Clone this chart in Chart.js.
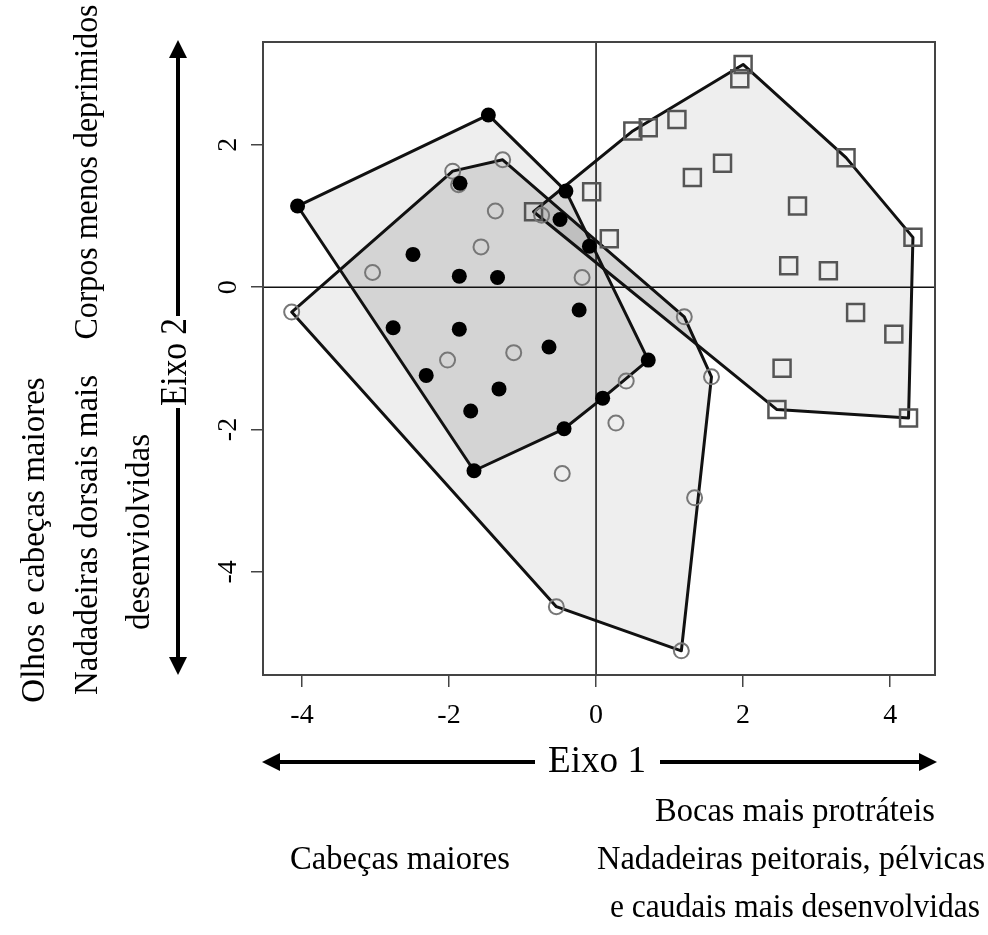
<!DOCTYPE html>
<html>
<head>
<meta charset="utf-8">
<script src="https://cdn.jsdelivr.net/npm/chart.js@4.4.0/dist/chart.umd.min.js"></script>
<style>
html, body { margin: 0; padding: 0; background: #fff; }
#wrap { width: 988px; height: 935px; }
</style>
</head>
<body>
<div id="wrap"><canvas id="cv" width="988" height="935"></canvas></div>
<script>
// axis ticks
var xTicks = [-4, -2, 0, 2, 4];
var yTicks = [-4, -2, 0, 2];

// filled circles
var blackX = [-4.06, -1.465, -1.85, -0.41, -0.49, -0.09, -2.49, -1.86, -1.34, -0.23,
              -2.76, -1.86, -0.64, -2.31, -1.32, -1.705, -0.435, -1.66, 0.09, 0.71];
var blackY = [1.14, 2.42, 1.46, 1.35, 0.95, 0.576, 0.46, 0.155, 0.136, -0.32,
              -0.57, -0.59, -0.84, -1.24, -1.43, -1.74, -1.99, -2.58, -1.56, -1.025];

// open circles
var openX = [-1.95, -1.27, -1.87, -1.37, -1.565, -3.04, -0.19, -4.14, -0.74, -2.02,
             -1.12, -0.46, -0.54, 1.20, 1.57, 0.41, 0.27, 1.34, 1.16];
var openY = [1.63, 1.79, 1.44, 1.07, 0.566, 0.206, 0.136, -0.35, 1.01, -1.025,
             -0.92, -2.62, -4.49, -0.417, -1.26, -1.32, -1.91, -2.96, -5.11];

// squares
var squareX = [2.00, 1.955, 1.10, 0.71, 0.50, 1.72, 1.31, 3.40, 2.74, 4.31,
               0.18, -0.06, 2.62, 3.16, 3.53, 4.05, 2.53, 2.46, 4.25, -0.85];
var squareY = [3.13, 2.93, 2.355, 2.24, 2.195, 1.74, 1.54, 1.82, 1.14, 0.70,
               0.68, 1.34, 0.30, 0.23, -0.355, -0.66, -1.14, -1.72, -1.84, 1.06];

function toPoints(xs, ys) {
    return xs.map(function (x, i) { return { x: x, y: ys[i] }; });
}

// convex hull (monotone chain)
function convexHull(pts) {
    var p = pts.slice().sort(function (a, b) { return a.x - b.x || a.y - b.y; });
    var cross = function (o, a, b) { return (a.x - o.x) * (b.y - o.y) - (a.y - o.y) * (b.x - o.x); };
    var lower = [], upper = [];
    p.forEach(function (q) {
        while (lower.length >= 2 && cross(lower[lower.length - 2], lower[lower.length - 1], q) <= 0) lower.pop();
        lower.push(q);
    });
    p.slice().reverse().forEach(function (q) {
        while (upper.length >= 2 && cross(upper[upper.length - 2], upper[upper.length - 1], q) <= 0) upper.pop();
        upper.push(q);
    });
    lower.pop(); upper.pop();
    return lower.concat(upper);
}

function tracePoly(ctx, poly) {
    ctx.beginPath();
    poly.forEach(function (p, i) { if (i === 0) ctx.moveTo(p[0], p[1]); else ctx.lineTo(p[0], p[1]); });
    ctx.closePath();
}

var hullPlugin = {
    id: 'hulls',
    beforeDatasetsDraw: function (chart) {
        var ctx = chart.ctx, a = chart.chartArea;
        var sx = chart.scales.x, sy = chart.scales.y;
        var polys = chart.data.datasets.map(function (ds) {
            return convexHull(ds.data).map(function (p) {
                return [sx.getPixelForValue(p.x), sy.getPixelForValue(p.y)];
            });
        });
        ctx.save();
        ctx.beginPath();
        ctx.rect(a.left, a.top, a.right - a.left, a.bottom - a.top);
        ctx.clip();
        // single cover
        polys.forEach(function (poly) { tracePoly(ctx, poly); ctx.fillStyle = '#eeeeee'; ctx.fill(); });
        // double cover
        for (var i = 0; i < polys.length; i++) {
            for (var j = i + 1; j < polys.length; j++) {
                ctx.save();
                tracePoly(ctx, polys[i]); ctx.clip();
                tracePoly(ctx, polys[j]); ctx.fillStyle = '#d4d4d4'; ctx.fill();
                ctx.restore();
            }
        }
        // triple cover
        ctx.save();
        tracePoly(ctx, polys[0]); ctx.clip();
        tracePoly(ctx, polys[1]); ctx.clip();
        tracePoly(ctx, polys[2]); ctx.fillStyle = '#bfbfbf'; ctx.fill();
        ctx.restore();

        // zero lines
        var x0 = sx.getPixelForValue(0), y0 = sy.getPixelForValue(0);
        ctx.strokeStyle = '#111';
        ctx.lineWidth = 1.5;
        ctx.beginPath();
        ctx.moveTo(x0, a.top); ctx.lineTo(x0, a.bottom);
        ctx.moveTo(a.left, y0); ctx.lineTo(a.right, y0);
        ctx.stroke();

        // hull outlines
        ctx.strokeStyle = '#111';
        ctx.lineWidth = 3;
        ctx.lineJoin = 'round';
        polys.forEach(function (poly) { tracePoly(ctx, poly); ctx.stroke(); });
        ctx.restore();
    },
    afterDraw: function (chart) {
        var ctx = chart.ctx, a = chart.chartArea;
        ctx.save();
        ctx.strokeStyle = '#444';
        ctx.lineWidth = 2;
        ctx.strokeRect(a.left, a.top, a.right - a.left, a.bottom - a.top);

        ctx.fillStyle = '#000';
        ctx.textAlign = 'center';
        ctx.textBaseline = 'middle';
        function text(s, x, y, size, maxW, vertical) {
            ctx.save();
            ctx.font = size + 'px "Liberation Serif", "Times New Roman", serif';
            ctx.translate(x, y);
            if (vertical) ctx.rotate(-Math.PI / 2);
            ctx.fillText(s, 0, 0, maxW);
            ctx.restore();
        }
        function arrow(x1, y1, x2, y2) {
            var ang = Math.atan2(y2 - y1, x2 - x1);
            var hl = 18, hw = 9;
            var bx = x2 - hl * Math.cos(ang), by = y2 - hl * Math.sin(ang);
            ctx.save();
            ctx.strokeStyle = '#000';
            ctx.lineWidth = 4;
            ctx.beginPath(); ctx.moveTo(x1, y1); ctx.lineTo(bx, by); ctx.stroke();
            ctx.beginPath();
            ctx.moveTo(x2, y2);
            ctx.lineTo(bx + hw * Math.sin(ang), by - hw * Math.cos(ang));
            ctx.lineTo(bx - hw * Math.sin(ang), by + hw * Math.cos(ang));
            ctx.closePath();
            ctx.fillStyle = '#000';
            ctx.fill();
            ctx.restore();
        }

        // horizontal axis caption
        text('Eixo 1', 597, 762, 38, 98);
        arrow(535, 762, 262, 762);
        arrow(660, 762, 937, 762);
        text('Bocas mais protráteis', 795, 812, 33, 280);
        text('Cabeças maiores', 400, 860, 33, 220);
        text('Nadadeiras peitorais, pélvicas', 791, 860, 33, 388);
        text('e caudais mais desenvolvidas', 795, 908, 33, 370);

        // vertical axis caption
        text('Eixo 2', 176, 362, 38, 88, true);
        arrow(178, 316, 178, 40);
        arrow(178, 408, 178, 675);
        text('Corpos menos deprimidos', 88, 172, 33, 335, true);
        text('Olhos e cabeças maiores', 35, 540, 33, 330, true);
        text('Nadadeiras dorsais mais', 88, 535, 33, 320, true);
        text('desenviolvidas', 140, 532, 33, 225, true);
        ctx.restore();
    }
};

var tickFont = { family: '"Liberation Serif", "Times New Roman", serif', size: 28 };

new Chart(document.getElementById('cv'), {
    type: 'scatter',
    data: {
        datasets: [{
            data: toPoints(blackX, blackY),
            pointStyle: 'circle',
            pointRadius: 7.5,
            backgroundColor: '#000',
            borderColor: '#000',
            borderWidth: 0
        }, {
            data: toPoints(openX, openY),
            pointStyle: 'circle',
            pointRadius: 7.5,
            backgroundColor: 'rgba(0,0,0,0)',
            borderColor: '#777',
            borderWidth: 2
        }, {
            data: toPoints(squareX, squareY),
            pointStyle: 'rect',
            pointRadius: 12,
            backgroundColor: 'rgba(0,0,0,0)',
            borderColor: '#555',
            borderWidth: 2.5
        }]
    },
    options: {
        responsive: false,
        animation: false,
        devicePixelRatio: 1,
        layout: { padding: { left: 200, top: 42, right: 53, bottom: 200 } },
        plugins: { legend: { display: false }, tooltip: { enabled: false } },
        scales: {
            x: {
                type: 'linear',
                min: -4.53,
                max: 4.61,
                afterBuildTicks: function (s) { s.ticks = xTicks.map(function (v) { return { value: v }; }); },
                afterFit: function (s) { s.height = 60; },
                border: { display: false },
                grid: { drawOnChartArea: false, tickLength: 12, color: '#444', lineWidth: 1.5 },
                ticks: { font: tickFont, color: '#000', padding: 12, maxRotation: 0 }
            },
            y: {
                type: 'linear',
                min: -5.45,
                max: 3.445,
                afterBuildTicks: function (s) { s.ticks = yTicks.map(function (v) { return { value: v }; }); },
                afterFit: function (s) { s.width = 63; },
                border: { display: false },
                grid: { drawOnChartArea: false, tickLength: 12, color: '#444', lineWidth: 1.5 },
                ticks: { font: tickFont, color: '#000', padding: 11, minRotation: 90, maxRotation: 90, crossAlign: 'center' }
            }
        }
    },
    plugins: [hullPlugin]
});
</script>
</body>
</html>
